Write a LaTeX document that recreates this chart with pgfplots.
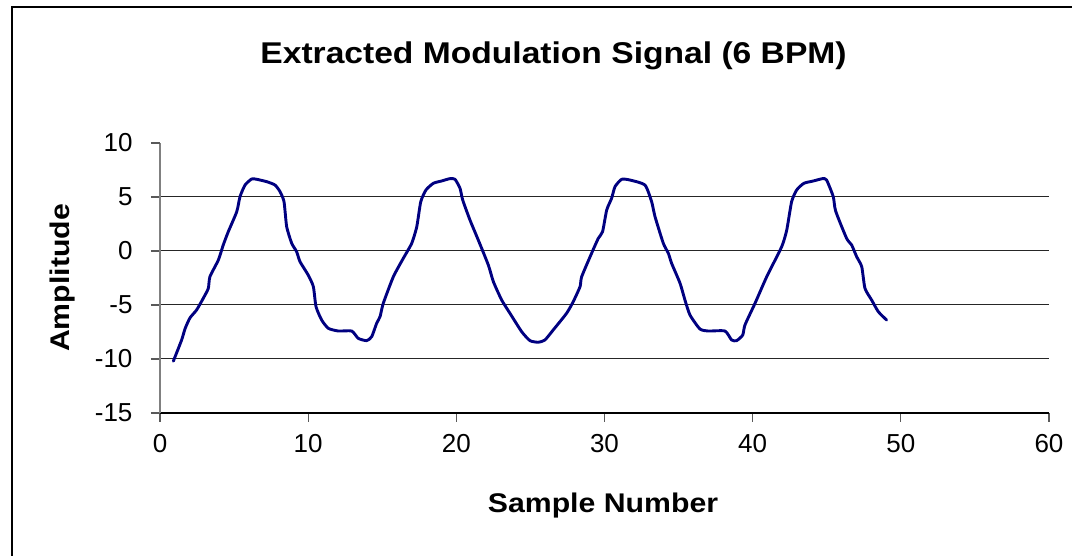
\documentclass[border=0pt]{standalone}
\usepackage{fontspec}
\setmainfont{Liberation Sans}
\newfontfamily\widefont[FakeStretch=1.12]{Liberation Sans}
\usepackage{pgfplots}
\pgfplotsset{compat=1.18}
\definecolor{xlnavy}{RGB}{0,0,128}
\begin{document}
\begin{tikzpicture}
\path[use as bounding box] (0,0) rectangle (1072pt,556pt);
% chart area border (right and bottom edges fall outside the picture)
\draw[line width=1.5pt] (12pt,-5pt) -- (12pt,549pt) -- (1080pt,549pt);
\begin{axis}[
  at={(160pt,143pt)}, anchor=south west,
  scale only axis, width=889pt, height=270pt,
  xmin=0, xmax=60, ymin=-15, ymax=10,
  xtick={0,10,...,60},
  ytick={-15,-10,...,5},
  extra y ticks={10},
  extra y tick style={grid=none},
  ymajorgrids,
  major grid style={line width=1pt, black!85},
  axis x line*=bottom, axis y line*=left,
  x axis line style={line width=1.2pt, black, -},
  y axis line style={line width=1.5pt, gray, -},
  tick align=outside,
  major tick length=9pt,
  tick style={line width=1.2pt, gray!70!black},
  /pgf/number format/assume math mode=true,
  ticklabel style={font=\fontsize{26}{31}\selectfont},
  yticklabel style={xshift=-15pt},
  xticklabel style={yshift=-9pt},
  clip=false,
]
\addplot[xlnavy, line width=2.9pt, smooth, tension=0.35, line join=round, line cap=round] coordinates {
(0.90,-10.20) (1.46,-8.24) (1.69,-7.20) (2.02,-6.20) (2.47,-5.46)
(2.92,-4.38) (3.26,-3.46) (3.37,-2.38) (3.94,-0.83) (4.27,0.56)
(4.61,1.79) (5.18,3.64) (5.40,5.03) (5.74,6.11) (6.19,6.67)
(6.52,6.64) (7.20,6.42) (7.76,6.11) (8.10,5.50) (8.37,4.57)
(8.55,2.25) (8.89,0.71) (9.22,-0.06) (9.45,-0.99) (10.00,-2.22)
(10.35,-3.30) (10.53,-5.16) (10.91,-6.39) (11.36,-7.16) (12.04,-7.41)
(12.94,-7.41) (13.38,-8.09) (13.95,-8.30) (14.29,-7.93) (14.62,-6.70)
(14.85,-6.08) (15.07,-4.84) (15.75,-2.38) (16.42,-0.68) (16.99,0.71)
(17.33,2.25) (17.60,4.57) (17.95,5.65) (18.45,6.27) (19.00,6.48)
(19.57,6.70) (19.91,6.64) (20.25,5.80) (20.43,4.72) (20.92,2.87)
(21.48,1.02) (22.16,-1.30) (22.50,-2.84) (23.06,-4.54) (23.62,-5.77)
(24.41,-7.47) (24.97,-8.30) (25.53,-8.45) (25.98,-8.24) (26.54,-7.31)
(27.44,-5.77) (27.89,-4.69) (28.35,-3.30) (28.46,-2.38) (29.13,-0.21)
(29.58,1.17) (29.87,1.79) (30.15,3.80) (30.48,4.88) (30.71,5.96)
(31.16,6.64) (31.72,6.57) (32.73,6.11) (33.18,4.57) (33.41,3.18)
(33.97,0.71) (34.31,-0.21) (34.53,-1.14) (35.10,-2.99) (35.43,-4.54)
(35.77,-5.93) (36.44,-7.22) (37.00,-7.41) (38.13,-7.41) (38.58,-8.24)
(38.92,-8.30) (39.33,-7.78) (39.48,-6.85) (40.16,-4.84) (40.95,-2.38)
(41.96,0.40) (42.30,1.94) (42.63,4.57) (42.97,5.65) (43.46,6.27)
(44.09,6.48) (44.72,6.70) (44.99,6.57) (45.44,5.03) (45.60,3.70)
(46.34,1.17) (46.68,0.56) (47.02,-0.53) (47.36,-1.45) (47.58,-3.46)
(48.03,-4.54) (48.48,-5.62) (49.04,-6.39)
};
\end{axis}
\node[anchor=base, font=\widefont\bfseries\fontsize{30}{36}\selectfont]
  at (553.5pt,492pt) {Extracted Modulation Signal (6 BPM)};
\node[anchor=base, font=\widefont\bfseries\fontsize{27}{32}\selectfont]
  at (603pt,43pt) {Sample Number};
\node[rotate=90, anchor=center, font=\widefont\bfseries\fontsize{27}{32}\selectfont]
  at (63pt,278pt) {Amplitude};
\end{tikzpicture}
\end{document}
